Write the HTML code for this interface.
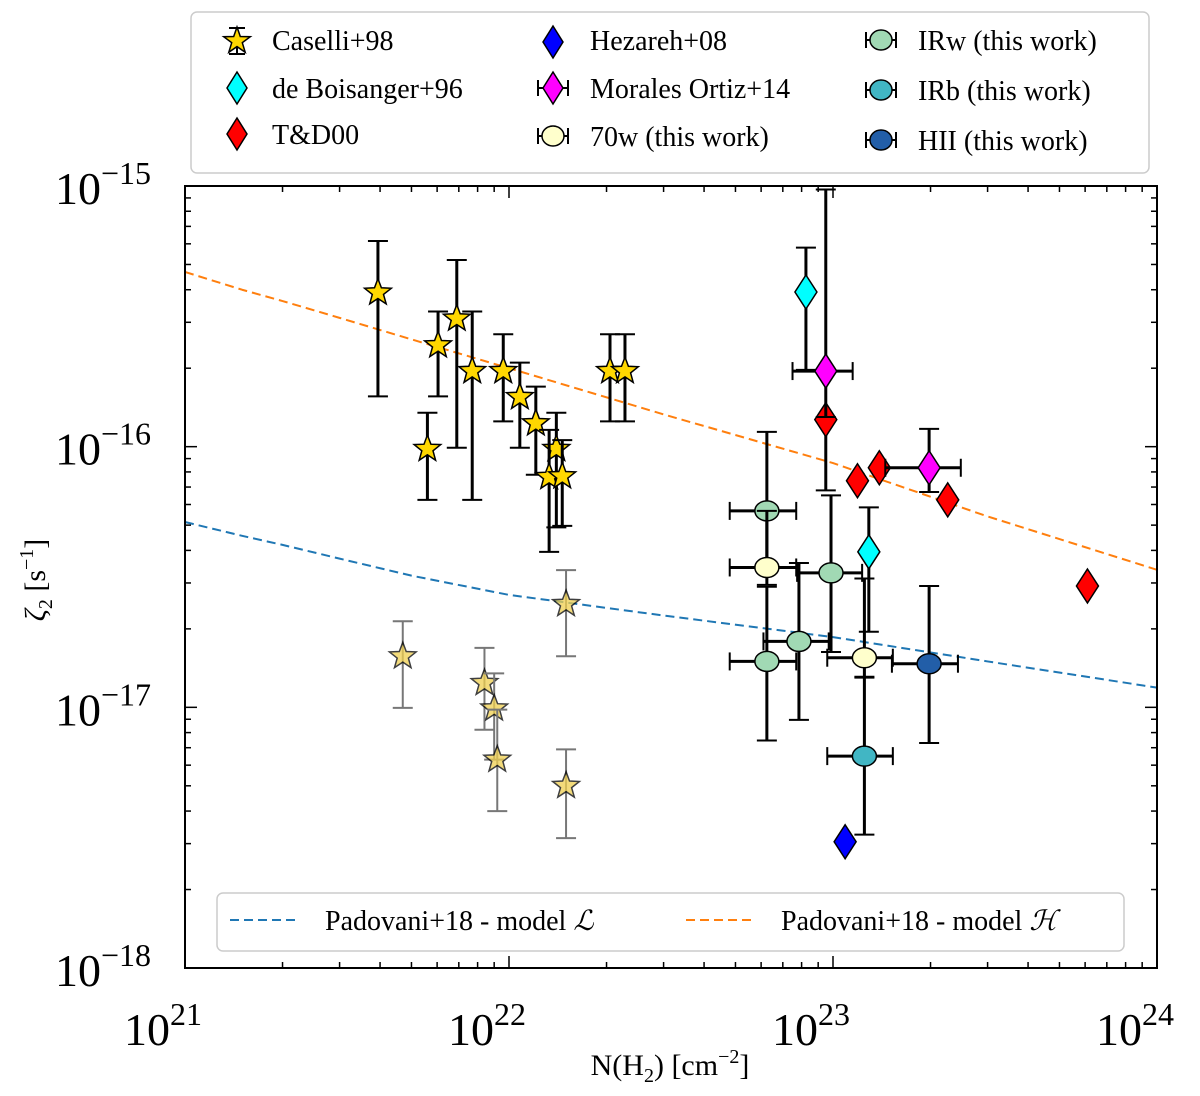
<!DOCTYPE html>
<html><head><meta charset="utf-8"><style>
body{margin:0;background:#fff}
text{font-family:"Liberation Serif","DejaVu Serif",serif;fill:#000}
</style></head><body>
<svg id="chart" width="1200" height="1091" viewBox="0 0 1200 1091" xmlns="http://www.w3.org/2000/svg">
<g id="lines"></g><g id="marks"></g><g id="axes"></g><g id="legends"></g>
</svg>
<script>
// ---- data ----
const caselliN = [3.94e21,6.04e21,6.9e21,5.6e21,7.7e21,9.6e21,1.08e22,1.21e22,1.40e22,1.33e22,1.46e22,2.05e22,2.28e22];
const caselliZ = [3.9e-16,2.45e-16,3.1e-16,9.8e-17,1.95e-16,1.95e-16,1.55e-16,1.23e-16,9.8e-17,7.65e-17,7.7e-17,1.95e-16,1.95e-16];
const caselliZlo = [1.56e-16,1.56e-16,9.9e-17,6.25e-17,6.25e-17,1.25e-16,9.9e-17,7.8e-17,4.9e-17,3.95e-17,4.97e-17,1.25e-16,1.25e-16];
const caselliZhi = [6.15e-16,3.3e-16,5.2e-16,1.35e-16,3.3e-16,2.7e-16,2.1e-16,1.7e-16,1.35e-16,1.16e-16,1.06e-16,2.7e-16,2.7e-16];
const fadedN = [4.7e21,8.4e21,9.0e21,9.2e21,1.5e22,1.5e22];
const fadedZ = [1.57e-17,1.24e-17,9.9e-18,6.3e-18,2.49e-17,5.0e-18];
const fadedZlo = [9.95e-18,8.2e-18,6.3e-18,4.0e-18,1.57e-17,3.15e-18];
const fadedZhi = [2.14e-17,1.69e-17,1.35e-17,9.8e-18,3.36e-17,6.9e-18];
const boisN = [8.25e22,1.29e23];
const boisZ = [3.92e-16,3.95e-17];
const boisZlo = [1.97e-16,1.95e-17];
const boisZhi = [5.8e-16,5.85e-17];
const tdN = [9.5e22,1.19e23,1.39e23,2.26e23,6.1e23];
const tdZ = [1.27e-16,7.4e-17,8.3e-17,6.25e-17,2.92e-17];
const tdZlo = [6.8e-17,7.4e-17,8.3e-17,6.25e-17,2.92e-17];
const tdZhi = [1.27e-16,7.4e-17,8.3e-17,6.25e-17,2.92e-17];
const hezN = [1.09e23];
const hezZ = [3.05e-18];
const morN = [9.5e22,1.98e23];
const morZ = [1.95e-16,8.3e-17];
const morNlo = [7.5e22,1.45e23];
const morNhi = [1.15e23,2.48e23];
const morZlo = [1.3e-16,6.7e-17];
const morZhi = [9.7e-16,1.17e-16];
const w70N = [6.25e22,1.25e23];
const w70Z = [3.44e-17,1.55e-17];
const w70Nlo = [4.8e22,9.6e22];
const w70Nhi = [7.7e22,1.53e23];
const w70Zlo = [2.95e-17,1.31e-17];
const w70Zhi = [5.67e-17,3.12e-17];
const irwN = [6.25e22,7.85e22,9.86e22,6.25e22];
const irwZ = [5.67e-17,1.79e-17,3.28e-17,1.5e-17];
const irwNlo = [4.8e22,6.1e22,7.75e22,4.8e22];
const irwNhi = [7.7e22,9.7e22,1.23e23,7.7e22];
const irwZlo = [3.44e-17,8.95e-18,1.63e-17,7.46e-18];
const irwZhi = [1.14e-16,3.58e-17,6.5e-17,2.9e-17];
const irbN = [1.25e23];
const irbZ = [6.5e-18];
const irbNlo = [9.6e22];
const irbNhi = [1.53e23];
const irbZlo = [3.25e-18];
const irbZhi = [1.3e-17];
const hiiN = [1.98e23];
const hiiZ = [1.47e-17];
const hiiNlo = [1.52e23];
const hiiNhi = [2.43e23];
const hiiZlo = [7.3e-18];
const hiiZhi = [2.92e-17];
const modelN = [1e21,1.5e21,2e21,3e21,5e21,1e22,3e22,1e23,3e23,1e24];
const modelL = [5.14e-17,4.55e-17,4.2e-17,3.72e-17,3.2e-17,2.7e-17,2.25e-17,1.86e-17,1.5e-17,1.19e-17];
const modelH = [4.68e-16,4.0e-16,3.62e-16,3.12e-16,2.58e-16,2.0e-16,1.33e-16,8.65e-17,5.4e-17,3.37e-17];
const xTickExp = [21,22,23,24];
const yTickExp = [-15,-16,-17,-18];

// ---- axes ----
const L=185,R=1157,T=186,B=968;
const X=v=>L+(Math.log10(v)-21)*(R-L)/3;
const Y=v=>T+(-15-Math.log10(v))*(B-T)/3;
const NS="http://www.w3.org/2000/svg";
function mk(tag,attrs,parent){const e=document.createElementNS(NS,tag);for(const k in attrs)e.setAttribute(k,attrs[k]);parent.appendChild(e);return e;}
const gL=document.getElementById('lines'),gM=document.getElementById('marks'),gA=document.getElementById('axes');

function starPath(cx,cy,r){let d='';for(let i=0;i<10;i++){const a=-Math.PI/2+i*Math.PI/5;const rr=i%2?r*0.42:r;d+=(i?'L':'M')+(cx+rr*Math.cos(a)).toFixed(1)+','+(cy+rr*Math.sin(a)).toFixed(1);}return d+'Z';}
function marker(kind,cx,cy,fill,parent,opacity){
  let e;
  if(kind==='star'){e=mk('path',{d:starPath(cx,cy,14),fill:fill,stroke:'#000','stroke-width':1.5},parent);}
  else if(kind==='diamond'){e=mk('path',{d:`M${cx},${cy-17}L${cx+11},${cy}L${cx},${cy+17}L${cx-11},${cy}Z`,fill:fill,stroke:'#000','stroke-width':1.5},parent);}
  else {e=mk('ellipse',{cx:cx,cy:cy,rx:12,ry:10,fill:fill,stroke:'#000','stroke-width':1.5},parent);}
  if(opacity)e.setAttribute('opacity',opacity);
  return e;
}
function errbar(x1,y1,x2,y2,col,w,parent,vert){
  if(Math.abs(x1-x2)+Math.abs(y1-y2)<1)return;
  mk('line',{x1:x1,y1:y1,x2:x2,y2:y2,stroke:col,'stroke-width':w},parent);
  if(vert){mk('line',{x1:x1-10,y1:y1,x2:x1+10,y2:y1,stroke:col,'stroke-width':2},parent);mk('line',{x1:x1-10,y1:y2,x2:x1+10,y2:y2,stroke:col,'stroke-width':2},parent);}
  else{mk('line',{x1:x1,y1:y1-9,x2:x1,y2:y1+9,stroke:col,'stroke-width':2},parent);mk('line',{x1:x2,y1:y1-9,x2:x2,y2:y1+9,stroke:col,'stroke-width':2},parent);}
}

function modelLine(vals,col,name){const p=mk('polyline',{points:modelN.map((n,i)=>X(n)+','+Y(vals[i])).join(' '),fill:'none',stroke:col,'stroke-width':2,'stroke-dasharray':'9,5','stroke-linejoin':'round'},gL);

}
modelLine(modelL,'#1f77b4','model-l-line');
modelLine(modelH,'#ff7f0e','model-h-line');

fadedN.forEach((n,i)=>{const g=mk('g',{},gM);


errbar(X(n),Y(fadedZhi[i]),X(n),Y(fadedZlo[i]),'#777',2,g,true);marker('star',X(n),Y(fadedZ[i]),'#f0d050',g,0.75);});
caselliN.forEach((n,i)=>{const g=mk('g',{},gM);


errbar(X(n),Y(caselliZhi[i]),X(n),Y(caselliZlo[i]),'#000',3,g,true);marker('star',X(n),Y(caselliZ[i]),'#ffd700',g);});
function series(N,Z,Nlo,Nhi,Zlo,Zhi,kind,fill,name){N.forEach((n,i)=>{const g=mk('g',{},gM);


if(Zlo)errbar(X(n),Y(Zhi[i]),X(n),Y(Zlo[i]),'#000',3,g,true);
if(Nlo)errbar(X(Nlo[i]),Y(Z[i]),X(Nhi[i]),Y(Z[i]),'#000',3,g,false);
marker(kind,X(n),Y(Z[i]),fill,g);});}
series(irwN,irwZ,irwNlo,irwNhi,irwZlo,irwZhi,'circle','#a1d9b4','irw-point');
series(w70N,w70Z,w70Nlo,w70Nhi,w70Zlo,w70Zhi,'circle','#ffffcc','70w-point');
series(irbN,irbZ,irbNlo,irbNhi,irbZlo,irbZhi,'circle','#41b6c4','irb-point');
series(tdN,tdZ,null,null,tdZlo,tdZhi,'diamond','#ff0000','td00-point');
series(hiiN,hiiZ,hiiNlo,hiiNhi,hiiZlo,hiiZhi,'circle','#225ea8','hii-point');
series(morN,morZ,morNlo,morNhi,morZlo,morZhi,'diamond','#ff00ff','morales-point');
series(boisN,boisZ,null,null,boisZlo,boisZhi,'diamond','#00ffff','boisanger-point');
series(hezN,hezZ,null,null,null,null,'diamond','#0000ff','hezareh-point');

mk('rect',{x:L,y:T,width:R-L,height:B-T,fill:'none',stroke:'#000','stroke-width':2},gA);
for(let d=21;d<=24;d++){for(let m=1;m<10;m++){const v=m*Math.pow(10,d);if(Math.log10(v)>24.0001)continue;const x=X(v);const len=m===1?12:6;
mk('line',{x1:x,y1:B,x2:x,y2:B-len,stroke:'#000','stroke-width':1.5},gA);mk('line',{x1:x,y1:T,x2:x,y2:T+len,stroke:'#000','stroke-width':1.5},gA);}}
for(let d=-18;d<=-15;d++){for(let m=1;m<10;m++){const v=m*Math.pow(10,d);if(Math.log10(v)>-14.9999)continue;const y=Y(v);const len=m===1?12:6;
mk('line',{x1:L,y1:y,x2:L+len,y2:y,stroke:'#000','stroke-width':1.5},gA);mk('line',{x1:R,y1:y,x2:R-len,y2:y,stroke:'#000','stroke-width':1.5},gA);}}
xTickExp.forEach(e=>{const t=mk('text',{x:X(Math.pow(10,e))-22,y:1045,'font-size':46,'text-anchor':'middle'},gA);t.textContent='10';


const s=mk('tspan',{dy:-20,'font-size':32},t);s.textContent=String(e);});
yTickExp.forEach(e=>{const t=mk('text',{x:55,y:Y(Math.pow(10,e))+18,'font-size':46},gA);t.textContent='10';


const s=mk('tspan',{dy:-20,'font-size':32},t);s.textContent='\u2212'+String(-e);});
</script>
<div style="position:absolute;left:0;top:0;width:1200px;height:1091px;pointer-events:none">
<svg width="1200" height="1091" xmlns="http://www.w3.org/2000/svg">
<text x="670" y="1075" font-size="30" text-anchor="middle">N(H<tspan font-size="20" dy="7">2</tspan><tspan dy="-7">) [cm</tspan><tspan font-size="20" dy="-12">−2</tspan><tspan dy="12">]</tspan></text>
<text transform="translate(45,580) rotate(-90)" font-size="30" text-anchor="middle"><tspan font-style="italic">ζ</tspan><tspan font-size="20" dy="7">2</tspan><tspan dy="-7"> [s</tspan><tspan font-size="20" dy="-12">−1</tspan><tspan dy="12">]</tspan></text>
<g>
<rect x="191" y="12" width="958" height="161" rx="6" fill="#fff" fill-opacity="0.9" stroke="#ccc" stroke-width="1.5"/>
<g><line x1="237" y1="28" x2="237" y2="54" stroke="#000" stroke-width="2"/><line x1="229" y1="28" x2="245" y2="28" stroke="#000" stroke-width="2"/><line x1="229" y1="54" x2="245" y2="54" stroke="#000" stroke-width="2"/><path d="M237,27L240.3,36.5L250.3,36.7L242.3,42.7L245.2,52.3L237,46.6L228.8,52.3L231.7,42.7L223.7,36.7L233.7,36.5Z" fill="#ffd700" stroke="#000" stroke-width="1.5"/><text x="272" y="50" font-size="28">Caselli+98</text></g>
<g><line x1="237" y1="74" x2="237" y2="102" stroke="#000" stroke-width="2"/><path d="M237,72L247,88L237,104L227,88Z" fill="#00ffff" stroke="#000" stroke-width="1.5"/><text x="272" y="98" font-size="28">de Boisanger+96</text></g>
<g><path d="M237,118L247,134L237,150L227,134Z" fill="#ff0000" stroke="#000" stroke-width="1.5"/><text x="272" y="144" font-size="28">T&amp;D00</text></g>
<g><path d="M553,26L563,42L553,58L543,42Z" fill="#0000ff" stroke="#000" stroke-width="1.5"/><text x="590" y="50" font-size="28">Hezareh+08</text></g>
<g><line x1="538" y1="88" x2="568" y2="88" stroke="#000" stroke-width="2"/><line x1="538" y1="80" x2="538" y2="96" stroke="#000" stroke-width="2"/><line x1="568" y1="80" x2="568" y2="96" stroke="#000" stroke-width="2"/><path d="M553,72L563,88L553,104L543,88Z" fill="#ff00ff" stroke="#000" stroke-width="1.5"/><text x="590" y="98" font-size="28">Morales Ortiz+14</text></g>
<g><line x1="538" y1="136" x2="568" y2="136" stroke="#000" stroke-width="2"/><line x1="538" y1="128" x2="538" y2="144" stroke="#000" stroke-width="2"/><line x1="568" y1="128" x2="568" y2="144" stroke="#000" stroke-width="2"/><ellipse cx="553" cy="136" rx="11" ry="10" fill="#ffffcc" stroke="#000" stroke-width="1.5"/><text x="590" y="146" font-size="28">70w (this work)</text></g>
<g><line x1="866" y1="40" x2="896" y2="40" stroke="#000" stroke-width="2"/><line x1="866" y1="32" x2="866" y2="48" stroke="#000" stroke-width="2"/><line x1="896" y1="32" x2="896" y2="48" stroke="#000" stroke-width="2"/><ellipse cx="881" cy="40" rx="11" ry="10" fill="#a1d9b4" stroke="#000" stroke-width="1.5"/><text x="918" y="50" font-size="28">IRw (this work)</text></g>
<g><line x1="866" y1="90" x2="896" y2="90" stroke="#000" stroke-width="2"/><line x1="866" y1="82" x2="866" y2="98" stroke="#000" stroke-width="2"/><line x1="896" y1="82" x2="896" y2="98" stroke="#000" stroke-width="2"/><ellipse cx="881" cy="90" rx="11" ry="10" fill="#41b6c4" stroke="#000" stroke-width="1.5"/><text x="918" y="100" font-size="28">IRb (this work)</text></g>
<g><line x1="866" y1="140" x2="896" y2="140" stroke="#000" stroke-width="2"/><line x1="866" y1="132" x2="866" y2="148" stroke="#000" stroke-width="2"/><line x1="896" y1="132" x2="896" y2="148" stroke="#000" stroke-width="2"/><ellipse cx="881" cy="140" rx="11" ry="10" fill="#225ea8" stroke="#000" stroke-width="1.5"/><text x="918" y="150" font-size="28">HII (this work)</text></g>
</g>
<g>
<rect x="217" y="893" width="907" height="58" rx="6" fill="#fff" fill-opacity="0.9" stroke="#ccc" stroke-width="1.5"/>
<g><line x1="230" y1="920" x2="298" y2="920" stroke="#1f77b4" stroke-width="2" stroke-dasharray="9,5"/><text x="325" y="930" font-size="28">Padovani+18 - model <tspan font-style="italic">ℒ</tspan></text></g>
<g><line x1="686" y1="920" x2="754" y2="920" stroke="#ff7f0e" stroke-width="2" stroke-dasharray="9,5"/><text x="781" y="930" font-size="28">Padovani+18 - model <tspan font-style="italic">ℋ</tspan></text></g>
</g>
</svg></div>
</body></html>
